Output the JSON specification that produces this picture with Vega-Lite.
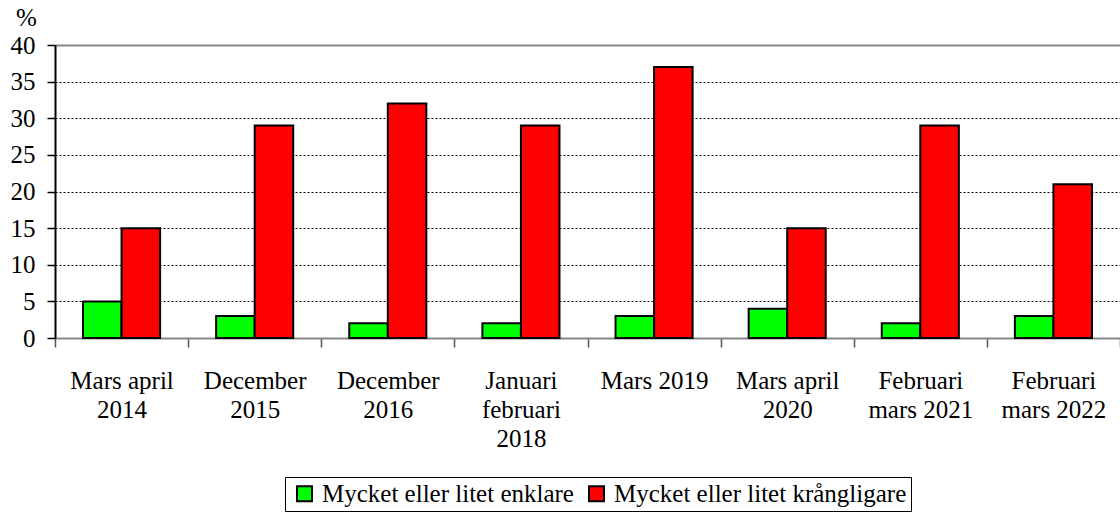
{
  "$schema": "https://vega.github.io/schema/vega-lite/v6.json",
  "autosize": {"type": "none"},
  "padding": {"left": 55, "top": 45, "right": 0, "bottom": 174},
  "width": 1065,
  "height": 293,
  "background": "white",
  "config": {
    "font": "Liberation Serif, Times New Roman, serif",
    "view": {"stroke": null},
    "axis": {"labelFont": "Liberation Serif, Times New Roman, serif", "titleFont": "Liberation Serif, Times New Roman, serif", "labelColor": "black", "titleColor": "black"},
    "legend": {"labelFont": "Liberation Serif, Times New Roman, serif", "labelColor": "black"}
  },
  "data": {
    "values": [
      {"period": "Mars april|2014", "series": "Mycket eller litet enklare", "value": 5},
      {"period": "Mars april|2014", "series": "Mycket eller litet krångligare", "value": 15},
      {"period": "December|2015", "series": "Mycket eller litet enklare", "value": 3},
      {"period": "December|2015", "series": "Mycket eller litet krångligare", "value": 29},
      {"period": "December|2016", "series": "Mycket eller litet enklare", "value": 2},
      {"period": "December|2016", "series": "Mycket eller litet krångligare", "value": 32},
      {"period": "Januari|februari|2018", "series": "Mycket eller litet enklare", "value": 2},
      {"period": "Januari|februari|2018", "series": "Mycket eller litet krångligare", "value": 29},
      {"period": "Mars 2019", "series": "Mycket eller litet enklare", "value": 3},
      {"period": "Mars 2019", "series": "Mycket eller litet krångligare", "value": 37},
      {"period": "Mars april|2020", "series": "Mycket eller litet enklare", "value": 4},
      {"period": "Mars april|2020", "series": "Mycket eller litet krångligare", "value": 15},
      {"period": "Februari|mars 2021", "series": "Mycket eller litet enklare", "value": 2},
      {"period": "Februari|mars 2021", "series": "Mycket eller litet krångligare", "value": 29},
      {"period": "Februari|mars 2022", "series": "Mycket eller litet enklare", "value": 3},
      {"period": "Februari|mars 2022", "series": "Mycket eller litet krångligare", "value": 21}
    ]
  },
  "mark": {"type": "bar", "stroke": "black", "strokeWidth": 2},
  "encoding": {
    "x": {
      "field": "period", "type": "nominal", "sort": null,
      "scale": {"paddingInner": 0, "paddingOuter": 0},
      "axis": {
        "title": null, "orient": "bottom", "labelAngle": 0, "labelFontSize": 25,
        "labelExpr": "split(datum.label, '|')", "labelLineHeight": 29,
        "labelPadding": 21, "ticks": true, "tickBand": "extent", "tickColor": "#555555",
        "tickSize": 9, "tickWidth": 1.5,
        "domain": true, "domainColor": "#888888", "domainWidth": 2,
        "labelBaseline": "top", "labelLimit": 200
      }
    },
    "xOffset": {"field": "series", "type": "nominal", "scale": {"paddingInner": 0, "paddingOuter": 0.727}},
    "y": {
      "field": "value", "type": "quantitative",
      "scale": {"domain": [0, 40], "nice": false},
      "axis": {
        "title": "%", "titleAngle": 0, "titleFontSize": 25, "titleFontWeight": "normal",
        "titleX": -29, "titleY": -20, "titleAlign": "center", "titleBaseline": "alphabetic",
        "values": [0, 5, 10, 15, 20, 25, 30, 35, 40],
        "labelFontSize": 25, "labelPadding": 12,
        "tickColor": "black", "tickSize": 8, "tickWidth": 1.5,
        "domainColor": "black", "domainWidth": 2,
        "grid": true,
        "gridColor": {"condition": {"test": "datum.value == 40", "value": "#888888"}, "value": "black"},
        "gridDash": {"condition": {"test": "datum.value == 40", "value": []}, "value": [2, 2]},
        "gridWidth": {"condition": {"test": "datum.value == 40", "value": 2}, "value": 1}
      }
    },
    "fill": {
      "field": "series", "type": "nominal",
      "scale": {"domain": ["Mycket eller litet enklare", "Mycket eller litet krångligare"], "range": ["#00ff00", "#ff0000"]},
      "legend": {
        "title": null, "orient": "none", "legendX": 230, "legendY": 432, "direction": "horizontal",
        "labelFontSize": 25, "symbolType": "square", "symbolSize": 225,
        "symbolStrokeColor": "black", "symbolStrokeWidth": 2, "symbolOffset": 3,
        "strokeColor": "black", "padding": 4, "columnPadding": 7, "labelOffset": 5,
        "labelLimit": 400
      }
    }
  }
}
